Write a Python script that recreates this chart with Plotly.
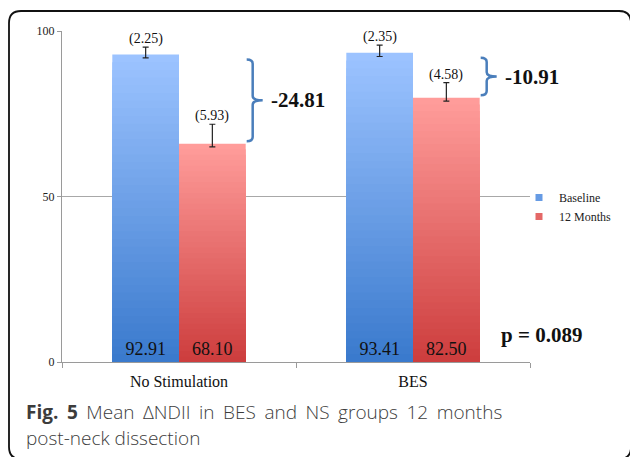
import plotly.graph_objects as go

# ---------------- data ----------------
categories = ["No Stimulation", "BES"]
series_names = ["Baseline", "12 Months"]
baseline_bar = [92.9, 93.4]
months12_bar = [65.9, 79.8]
baseline_labels = ["92.91", "93.41"]
months12_labels = ["68.10", "82.50"]
baseline_sd = [2.25, 2.35]
months12_sd = [5.93, 4.58]
baseline_sd_labels = ["(2.25)", "(2.35)"]
months12_sd_labels = ["(5.93)", "(4.58)"]
baseline_err_minus = [1.0, 1.1]
months12_err_minus = [0.9, 1.0]
change_labels = ["-24.81", "-10.91"]
p_label = "p = 0.089"
y_ticks = [0, 50, 100]
caption_bold = "Fig. 5"
caption_line1 = " Mean \u0394NDII in BES and NS groups 12 months"
caption_line2 = "post-neck dissection"

# ---------------- layout geometry ----------------
W, H = 630, 457
L, R, T, B = 62, 100, 31, 95
PW, PH = W - L - R, H - T - B
BARGAP = 0.43
BW = (1 - BARGAP) / 2  # one bar width in category units


def px2x(px):
    return (px - L) / PW


def py2y(py):
    return (H - B - py) / PH


SERIF = "Liberation Serif"
N = 40

blue_top, blue_bot = (156, 195, 255), (58, 122, 205)
red_top, red_bot = (255, 156, 154), (205, 62, 62)


def mix(c1, c2, t):
    return "rgb(%d,%d,%d)" % tuple(round(a + (b - a) * t) for a, b in zip(c1, c2))


fig = go.Figure()

series = [
    (series_names[0], baseline_bar, baseline_labels, baseline_sd, baseline_err_minus, blue_top, blue_bot, "g0"),
    (series_names[1], months12_bar, months12_labels, months12_sd, months12_err_minus, red_top, red_bot, "g1"),
]

for name, vals, labels, sdp, sdm, ctop, cbot, grp in series:
    # gradient: stacked overlay of shrinking bars, light at top -> dark at bottom
    for k in range(N):
        frac = (N - k) / N
        fig.add_trace(go.Bar(
            x=categories, y=[v * frac for v in vals], offsetgroup=grp,
            marker=dict(color=mix(ctop, cbot, k / (N - 1)), line=dict(width=0)),
            showlegend=False, hoverinfo="skip",
        ))
    # transparent full bar carrying value labels and error bars
    fig.add_trace(go.Bar(
        x=categories, y=vals, offsetgroup=grp, name=name,
        marker=dict(color="rgba(0,0,0,0)", line=dict(width=0)),
        text=labels, textposition="inside", insidetextanchor="start",
        textangle=0, constraintext="none",
        textfont=dict(family=SERIF, size=18, color="#111"),
        error_y=dict(type="data", array=sdp, arrayminus=sdm, symmetric=False,
                     color="#222", thickness=1.2, width=3),
        showlegend=False,
    ))

# legend entries
for name, color in [(series_names[0], mix(blue_top, blue_bot, 0.55)), (series_names[1], mix(red_top, red_bot, 0.55))]:
    fig.add_trace(go.Scatter(x=[None], y=[None], mode="markers", name=name,
                             marker=dict(symbol="square", size=7, color=color)))

annotations = []
shapes = []

# SD labels over error bars
for i in range(len(categories)):
    for off, vals, sdp, lab in [(-BW / 2, baseline_bar, baseline_sd, baseline_sd_labels),
                                (BW / 2, months12_bar, months12_sd, months12_sd_labels)]:
        annotations.append(dict(x=i + off, y=vals[i] + sdp[i], xref="x", yref="y",
                                text=lab[i], showarrow=False, yanchor="bottom", yshift=-2,
                                font=dict(family=SERIF, size=14, color="#111")))

# braces and change labels
for i in range(len(categories)):
    edge = (i + BW + 0.5) / 2  # paper x of right edge of 12-month bar
    x0 = edge + 1 / PW
    x1 = edge + 7 / PW
    x2 = edge + 17 / PW
    yt = baseline_bar[i] - 1.5
    yb = months12_bar[i] + 0.8
    ym = (yt + yb) / 2
    r = 1.3
    path = (f"M {x0},{yt} Q {x1},{yt} {x1},{yt - r} L {x1},{ym + r} "
            f"Q {x1},{ym} {x2},{ym} Q {x1},{ym} {x1},{ym - r} "
            f"L {x1},{yb + r} Q {x1},{yb} {x0},{yb}")
    shapes.append(dict(type="path", xref="paper", yref="y", path=path,
                       line=dict(color="#4a7ebb", width=2.5)))
    annotations.append(dict(x=edge, xref="paper", y=ym, yref="y", xshift=23,
                            text=f"<b>{change_labels[i]}</b>", showarrow=False,
                            xanchor="left", yanchor="middle",
                            font=dict(family=SERIF, size=21, color="#111")))

annotations.append(dict(x=px2x(499), xref="paper", y=py2y(335), yref="paper",
                        text=f"<b>{p_label}</b>", showarrow=False,
                        xanchor="left", yanchor="middle",
                        font=dict(family=SERIF, size=21, color="#111")))

# caption
annotations.append(dict(x=px2x(24), xref="paper", y=py2y(412), yref="paper",
                        text=(f'<span style="word-spacing:3.6px"><b>{caption_bold}</b>'
                              f'{caption_line1}</span>'),
                        showarrow=False, xanchor="left", yanchor="middle",
                        font=dict(family="Open Sans", size=19, color="#3c3c3c", weight=300)))
annotations.append(dict(x=px2x(24), xref="paper", y=py2y(438), yref="paper",
                        text=caption_line2, showarrow=False,
                        xanchor="left", yanchor="middle",
                        font=dict(family="Open Sans", size=19, color="#3c3c3c", weight=300)))

# outer rounded frame
xl, xr = px2x(9), px2x(631)
yt_, yb_ = py2y(11), py2y(459)
rx, ry = 12 / PW, 12 / PH
frame = (f"M {xl},{yb_ + ry} L {xl},{yt_ - ry} Q {xl},{yt_} {xl + rx},{yt_} "
         f"L {xr - rx},{yt_} Q {xr},{yt_} {xr},{yt_ - ry} L {xr},{yb_ + ry} "
         f"Q {xr},{yb_} {xr - rx},{yb_} L {xl + rx},{yb_} Q {xl},{yb_} {xl},{yb_ + ry} Z")
shapes.append(dict(type="path", xref="paper", yref="paper", path=frame,
                   line=dict(color="#111", width=1.8), layer="below"))

fig.update_layout(
    width=W, height=H,
    margin=dict(l=L, r=R, t=T, b=B, pad=0),
    paper_bgcolor="white", plot_bgcolor="white",
    barmode="group", bargap=BARGAP, bargroupgap=0,
    font=dict(family=SERIF, color="#222"),
    showlegend=True,
    legend=dict(x=px2x(519), y=py2y(207), xanchor="left", yanchor="middle",
                font=dict(family=SERIF, size=12, color="#222"),
                bgcolor="rgba(0,0,0,0)", itemwidth=30, tracegroupgap=0),
    xaxis=dict(type="category", range=[-0.5, 1.5], showline=True, linecolor="#9a9a9a",
               linewidth=1, ticks="outside", tickson="boundaries", ticklen=5,
               tickcolor="#9a9a9a", showgrid=False, ticklabelstandoff=5,
               tickfont=dict(family=SERIF, size=16, color="#111")),
    yaxis=dict(range=[0, 100], tickvals=y_ticks, showline=True, linecolor="#9a9a9a",
               linewidth=1, ticks="outside", ticklen=4, tickcolor="#9a9a9a",
               showgrid=True, gridcolor="#a8a8a8", gridwidth=1, zeroline=False,
               tickfont=dict(family=SERIF, size=12, color="#222")),
    annotations=annotations,
    shapes=shapes,
)

fig.write_html("out.html", config={"displayModeBar": False},
               post_script="document.body.style.margin='0';")
